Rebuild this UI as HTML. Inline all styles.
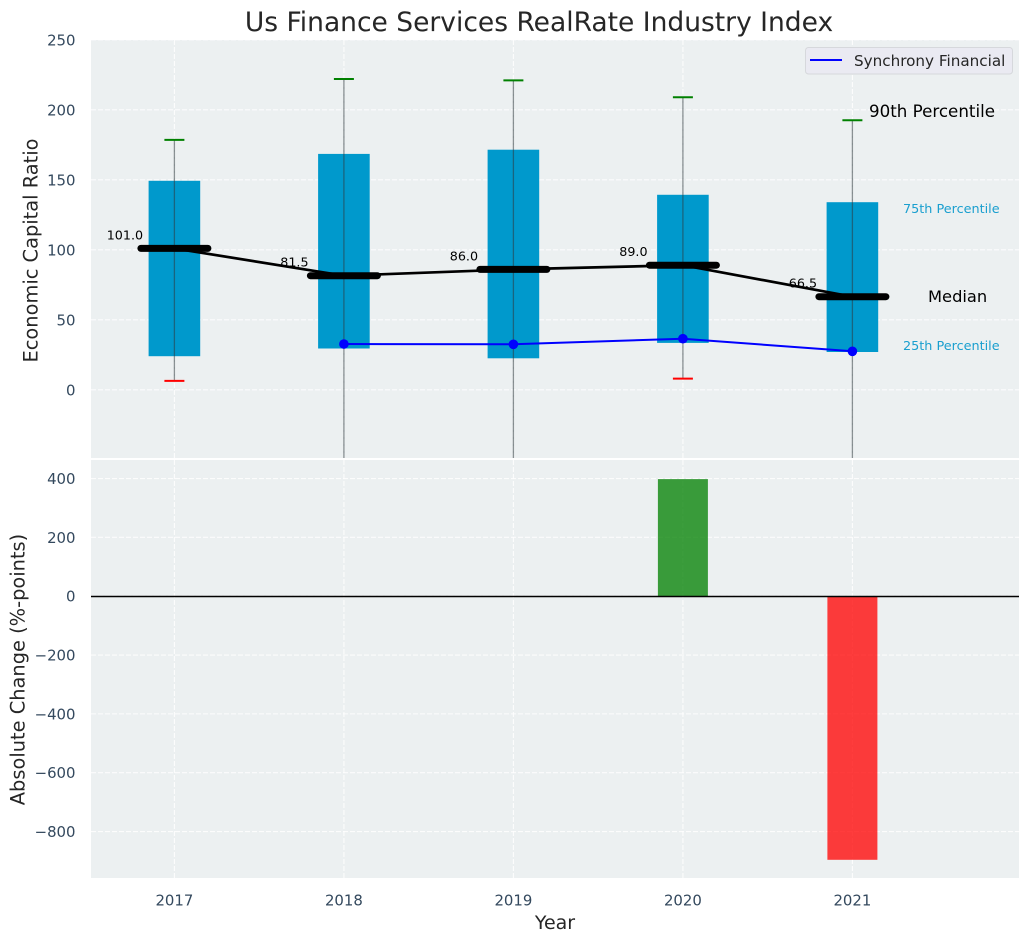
<!DOCTYPE html>
<html lang="en">
<head>
<meta charset="utf-8">
<title>Us Finance Services RealRate Industry Index</title>
<style>
  html, body { margin: 0; padding: 0; background: #ffffff; }
  svg { display: block; font-family: "DejaVu Sans", "Liberation Sans", sans-serif; }
</style>
</head>
<body>
<svg id="chart" xmlns="http://www.w3.org/2000/svg" width="1029" height="942" viewBox="0 0 1029 942">
  <defs>
    <clipPath id="top-clip"><rect x="91" y="40" width="928" height="418"></rect></clipPath>
    <clipPath id="bottom-clip"><rect x="91" y="460" width="928" height="418"></rect></clipPath>
  </defs>
  <rect x="0" y="0" width="1029" height="942" fill="#ffffff"></rect>
  <rect x="91" y="40" width="928" height="418" fill="#ecf0f1"></rect>
  <rect x="91" y="460" width="928" height="418" fill="#ecf0f1"></rect>
  <g id="top-grid" clip-path="url(#top-clip)"></g>
  <g id="bottom-grid" clip-path="url(#bottom-clip)"></g>
  <g id="top-marks" clip-path="url(#top-clip)"></g>
  <g id="bottom-marks" clip-path="url(#bottom-clip)"></g>
  <g id="tick-labels"></g>
  <text x="539" y="31" font-size="26.5" text-anchor="middle" fill="#262626">Us Finance Services RealRate Industry Index</text>
  <text transform="translate(37.5 250.5) rotate(-90)" font-size="19.4" text-anchor="middle" fill="#262626">Economic Capital Ratio</text>
  <text transform="translate(24.5 669.5) rotate(-90)" font-size="19.4" text-anchor="middle" fill="#262626">Absolute Change (%-points)</text>
  <text x="555" y="929" font-size="19" text-anchor="middle" fill="#262626">Year</text>
  <text x="869" y="117" font-size="16.7" fill="#000000">90th Percentile</text>
  <text x="903" y="213" font-size="12.8" fill="#1a9fcf">75th Percentile</text>
  <text x="928" y="302" font-size="16.3" fill="#000000">Median</text>
  <text x="903" y="350" font-size="12.8" fill="#1a9fcf">25th Percentile</text>
  <g>
    <rect x="805.5" y="47.5" width="207" height="26.5" rx="3" fill="#eaeaf2" stroke="#d6d8dc" stroke-width="1"></rect>
    <line x1="810" y1="60" x2="842" y2="60" stroke="#0000ff" stroke-width="2"></line>
    <text x="854" y="66" font-size="15.2" fill="#262626">Synchrony Financial</text>
  </g>
</svg>
<script>
const years = [2017, 2018, 2019, 2020, 2021];
const p90 = [178.5, 222, 221, 209, 192.5];
const p75 = [149.3, 168.5, 171.5, 139.3, 134];
const medians = [101, 81.5, 86, 89, 66.5];
const medianLabels = ["101.0", "81.5", "86.0", "89.0", "66.5"];
const p25 = [24, 29.5, 22.5, 33.5, 27];
const p10 = [6.4, -80, -80, 8, -80];
const companyYears = [2018, 2019, 2020, 2021];
const companyValues = [32.7, 32.5, 36.5, 27.5];
const changeValues = [null, null, null, 398, -896];
const topTicks = [0, 50, 100, 150, 200, 250];
const bottomTicks = [-800, -600, -400, -200, 0, 200, 400];

const SVG_NS = 'http://www.w3.org/2000/svg';
const x = (year) => 174.4 + (year - 2017) * 169.5;
const yTop = (value) => 389.8 - value * 1.4;
const yBottom = (value) => 596.2 - value * 0.2942;

function make(tag, parent, props, text) {
  const el = document.createElementNS(SVG_NS, tag);
  Object.keys(props).forEach((key) => el.setAttribute(key, props[key]));
  if (text !== undefined) el.textContent = text;
  parent.appendChild(el);
  return el;
}

const topGrid = document.getElementById('top-grid');
const bottomGrid = document.getElementById('bottom-grid');
const topMarks = document.getElementById('top-marks');
const bottomMarks = document.getElementById('bottom-marks');
const tickLabels = document.getElementById('tick-labels');
const gridStyle = { stroke: '#ffffff', 'stroke-width': 1.1, 'stroke-dasharray': '5 2', opacity: 0.85 };

topTicks.forEach((tick) => {
  const gridLine = make('line', topGrid, Object.assign({ x1: 91, x2: 1019, y1: yTop(tick), y2: yTop(tick) }, gridStyle));
  
  
  const label = make('text', tickLabels, { x: 75.5, y: yTop(tick) + 5.5, 'font-size': 14.9, 'text-anchor': 'end', fill: '#34495e' }, String(tick));
  
  
});

bottomTicks.forEach((tick) => {
  const gridLine = make('line', bottomGrid, Object.assign({ x1: 91, x2: 1019, y1: yBottom(tick), y2: yBottom(tick) }, gridStyle));
  
  
  const label = make('text', tickLabels, { x: 75.5, y: yBottom(tick) + 5.5, 'font-size': 14.9, 'text-anchor': 'end', fill: '#34495e' }, String(tick).replace('-', '\u2212'));
  
  
});

years.forEach((year) => {
  const topLine = make('line', topGrid, Object.assign({ x1: x(year), x2: x(year), y1: 40, y2: 458 }, gridStyle));
  
  
  const bottomLine = make('line', bottomGrid, Object.assign({ x1: x(year), x2: x(year), y1: 460, y2: 878 }, gridStyle));
  
  
  const label = make('text', tickLabels, { x: x(year), y: 905.5, 'font-size': 14.9, 'text-anchor': 'middle', fill: '#34495e' }, String(year));
  
  
});

years.forEach((year, i) => {
  const box = make('rect', topMarks, { x: x(year) - 25.8, width: 51.6, y: yTop(p75[i]), height: yTop(p25[i]) - yTop(p75[i]), fill: '#0099cc' });
  
  
});

const medianTrend = make('polyline', topMarks, { points: years.map((year, i) => x(year) + ',' + yTop(medians[i])).join(' '), fill: 'none', stroke: '#000000', 'stroke-width': 2.7 });



years.forEach((year, i) => {
  const whisker = make('line', topMarks, { x1: x(year), x2: x(year), y1: yTop(p10[i]), y2: yTop(p90[i]), stroke: '#2f3a3f', 'stroke-width': 1.3, opacity: 0.55 });
  
  
  const highCap = make('line', topMarks, { x1: x(year) - 10, x2: x(year) + 10, y1: yTop(p90[i]), y2: yTop(p90[i]), stroke: '#008000', 'stroke-width': 2 });
  
  
  const lowCap = make('line', topMarks, { x1: x(year) - 10, x2: x(year) + 10, y1: yTop(p10[i]), y2: yTop(p10[i]), stroke: '#ff0000', 'stroke-width': 2 });
  
  
  const medianBar = make('line', topMarks, { x1: x(year) - 33.5, x2: x(year) + 33.5, y1: yTop(medians[i]), y2: yTop(medians[i]), stroke: '#000000', 'stroke-width': 7, 'stroke-linecap': 'round' });
  
  
  const medianLabel = make('text', topMarks, { x: x(year) - 49.5, y: yTop(medians[i]) - 9, 'font-size': 12.7, 'text-anchor': 'middle', fill: '#000000' }, medianLabels[i]);
  
  
});

const companyLine = make('polyline', topMarks, { points: companyYears.map((year, i) => x(year) + ',' + yTop(companyValues[i])).join(' '), fill: 'none', stroke: '#0000ff', 'stroke-width': 2 });



companyYears.forEach((year, i) => {
  const point = make('circle', topMarks, { cx: x(year), cy: yTop(companyValues[i]), r: 4.8, fill: '#0000ff' });
  
  
});

years.forEach((year, i) => {
  const value = changeValues[i];
  if (value === null) return;
  const bar = make('rect', bottomMarks, {
    x: x(year) - 25,
    width: 50,
    y: Math.min(yBottom(value), yBottom(0)),
    height: Math.abs(yBottom(value) - yBottom(0)),
    fill: value >= 0 ? '#008000' : '#ff0000',
    opacity: 0.76
  });
  
  
});

const zeroLine = make('line', bottomMarks, { x1: 91, x2: 1019, y1: Math.round(yBottom(0)) + 0.5, y2: Math.round(yBottom(0)) + 0.5, stroke: '#000000', 'stroke-width': 1.4 });


</script>
</body>
</html>
